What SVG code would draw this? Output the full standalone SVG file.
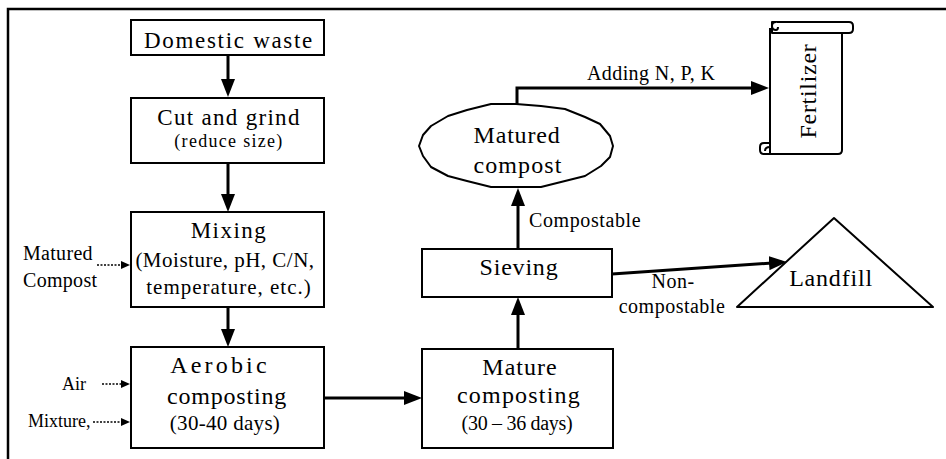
<svg xmlns="http://www.w3.org/2000/svg" width="946" height="459" viewBox="0 0 946 459" font-family="'Liberation Serif', serif">
<style>
.frame{fill:none;stroke:#000;stroke-width:2.5}
.box{fill:#fff;stroke:#000;stroke-width:2}
.shape{fill:#fff;stroke:#000;stroke-width:2;stroke-linejoin:round}
.t{fill:#000;font-family:'Liberation Serif',serif}
.m{text-anchor:middle}
.arrow{fill:none;stroke:#000;stroke-width:3;marker-end:url(#ah)}
.dot{fill:none;stroke:#000;stroke-width:1.5;stroke-dasharray:2 1.5;marker-end:url(#dh)}
</style>
<defs>
<marker id="ah" markerUnits="userSpaceOnUse" markerWidth="18" markerHeight="14" refX="13" refY="7" orient="auto">
<path d="M0,0 L18,7 L0,14 Z" fill="#000"/>
</marker>
<marker id="dh" markerUnits="userSpaceOnUse" markerWidth="9" markerHeight="8" refX="7" refY="4" orient="auto">
<path d="M0,0 L9,4 L0,8 Z" fill="#000"/>
</marker>
</defs>
<path class="frame" d="M8,459 V9 H946"/>

<g id="connectors">
<line class="arrow" x1="228" y1="55" x2="228" y2="92"/>
<line class="arrow" x1="228" y1="163" x2="228" y2="207"/>
<line class="arrow" x1="228" y1="307" x2="228" y2="342"/>
<line class="arrow" x1="324" y1="398" x2="417" y2="398"/>
<line class="arrow" x1="518" y1="349" x2="518" y2="302"/>
<line class="arrow" x1="518" y1="249" x2="518" y2="193"/>
<path class="arrow" d="M517,104 V88 H764"/>
<line class="arrow" x1="612" y1="274" x2="782" y2="262.3"/>
<line class="dot" x1="97" y1="265" x2="128" y2="265"/>
<line class="dot" x1="102" y1="384" x2="128" y2="384"/>
<line class="dot" x1="93" y1="422" x2="128" y2="422"/>
<text class="t" x="587" y="80" font-size="20" letter-spacing="0.4">Adding N, P, K</text>
<text class="t" x="529" y="227" font-size="20" letter-spacing="0.6">Compostable</text>
<text class="t m" x="673" y="288" font-size="20" letter-spacing="0.5">Non-</text>
<text class="t m" x="672" y="313" font-size="20" letter-spacing="0.5">compostable</text>
<text class="t" x="23" y="260" font-size="20" letter-spacing="0.3">Matured</text>
<text class="t" x="23" y="287" font-size="20" letter-spacing="0.3">Compost</text>
<text class="t" x="62" y="390" font-size="18">Air</text>
<text class="t" x="28" y="427" font-size="18">Mixture,</text>
</g>

<g id="domestic-waste">
<rect class="box" x="131" y="20" width="193" height="35"/>
<text class="t m" x="229" y="48" font-size="23" letter-spacing="1.7">Domestic waste</text>
</g>
<g id="cut-grind">
<rect class="box" x="131" y="98" width="193" height="65"/>
<text class="t m" x="229" y="125" font-size="23" letter-spacing="1.3">Cut and grind</text>
<text class="t m" x="229" y="147" font-size="18" letter-spacing="1.3">(reduce size)</text>
</g>
<g id="mixing">
<rect class="box" x="131" y="212" width="193" height="95"/>
<text class="t m" x="229" y="238" font-size="23" letter-spacing="1.5">Mixing</text>
<text class="t m" x="225" y="267" font-size="21" letter-spacing="0.5">(Moisture, pH, C/N,</text>
<text class="t m" x="229" y="294" font-size="21" letter-spacing="1">temperature, etc.)</text>
</g>
<g id="aerobic">
<rect class="box" x="131" y="347" width="193" height="101"/>
<text class="t m" x="220" y="373" font-size="24" letter-spacing="3.2">Aerobic</text>
<text class="t m" x="227" y="404" font-size="24" letter-spacing="0.8">composting</text>
<text class="t m" x="225" y="430" font-size="21" letter-spacing="0.3">(30-40 days)</text>
</g>
<g id="mature-composting">
<rect class="box" x="422" y="349" width="191" height="99"/>
<text class="t m" x="520" y="375" font-size="24" letter-spacing="1">Mature</text>
<text class="t m" x="519" y="403" font-size="24" letter-spacing="1.2">composting</text>
<text class="t m" x="517" y="430" font-size="20" letter-spacing="-0.3">(30 – 36 days)</text>
</g>
<g id="sieving">
<rect class="box" x="422" y="249" width="190" height="48"/>
<text class="t m" x="519" y="275" font-size="24" letter-spacing="0.8">Sieving</text>
</g>
<g id="matured-compost">
<path class="shape" d="M613,146 L610,157 L601,166 L585,176 L565,181 L541,187 L516,187 L491,187 L467,181 L448,176 L431,167 L423,156 L419,146 L423,135 L431,126 L448,116 L467,110 L491,104 L516,104 L541,106 L565,109 L585,117 L600,124 L610,136 Z"/>
<text class="t m" x="517" y="143" font-size="24" letter-spacing="0.8">Matured</text>
<text class="t m" x="518" y="173" font-size="24" letter-spacing="1.1">compost</text>
</g>
<g id="fertilizer">
<path class="shape" d="M770,28 V154 H838 Q842,154 842,150 V33"/>
<path class="shape" d="M772,22 H849 Q853,22 853,26 V29 Q853,33 849,33 H772 Z"/>
<path class="shape" d="M776,22 Q772,22 772,26 Q772,30 776,30 Q778,30 778,27"/>
<path class="shape" d="M770,143 H764 Q760,143 760,147 V150 Q760,154 764,154 H770 Z"/>
<path class="shape" d="M770,147 Q765,147 765,151"/>
<text class="t m" transform="translate(816,91) rotate(-90)" font-size="24" letter-spacing="0.7">Fertilizer</text>
</g>
<g id="landfill">
<path class="shape" d="M834,218 L933,307 L737,307 Z"/>
<text class="t m" x="831" y="286" font-size="24" letter-spacing="0.8">Landfill</text>
</g>
</svg>
